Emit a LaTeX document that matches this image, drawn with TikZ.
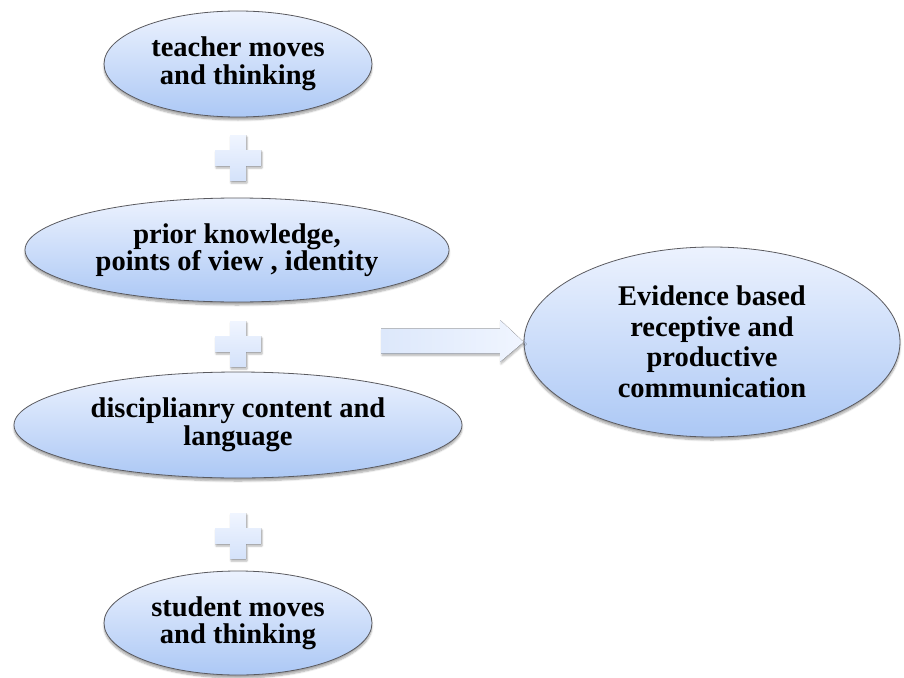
\documentclass[tikz,border=0pt]{standalone}
\usepackage{fontspec}
\setmainfont{Liberation Serif}
\usetikzlibrary{shapes.geometric,shadows.blur}
\definecolor{bubbletop}{RGB}{236,242,254}
\definecolor{bubblebot}{RGB}{172,200,245}
\definecolor{signtop}{RGB}{240,245,255}
\definecolor{signbot}{RGB}{212,226,250}
\definecolor{rimgray}{RGB}{90,90,95}
\tikzset{
  bubble/.style={ellipse, draw=rimgray, line width=0.8pt,
    top color=bubbletop, bottom color=bubblebot,
    inner sep=0pt, align=center,
    font=\fontsize{28.5}{27.5}\selectfont\bfseries,
    blur shadow={shadow xshift=0pt, shadow yshift=-3pt, shadow blur steps=6, shadow opacity=35}},
  sign/.style={top color=signtop, bottom color=signbot, draw=none,
    blur shadow={shadow xshift=1pt, shadow yshift=-2pt, shadow blur steps=5, shadow opacity=30}}
}
\begin{document}
\begin{tikzpicture}[x=1pt,y=-1pt]
\useasboundingbox (0,0) rectangle (904,677);

% four input bubbles
\node[bubble, minimum width=268pt, minimum height=106pt] (teacher) at (238,64)
  {teacher moves\\and thinking};
\node[bubble, minimum width=424pt, minimum height=104pt] (prior) at (237,250)
  {prior knowledge,\\points of view , identity};
\node[bubble, minimum width=448pt, minimum height=106pt] (discip) at (238,425)
  {disciplianry content and\\language};
\node[bubble, minimum width=268pt, minimum height=104pt] (student) at (238,623)
  {student moves\\and thinking};

% outcome bubble
\node[bubble, minimum width=376pt, minimum height=190pt,
  font=\fontsize{28.5}{30.5}\selectfont\bfseries] (evidence) at (712,342)
  {Evidence based\\receptive and\\productive\\communication};

% plus signs between the bubbles
\foreach \n/\cy in {plusA/158, plusB/344, plusC/536}{
  \coordinate (\n) at (238,\cy);
  \begin{scope}[shift={(\n)}]
    \fill[sign] (-8,-23) -- (8,-23) -- (8,-8) -- (23,-8) -- (23,8) -- (8,8)
      -- (8,23) -- (-8,23) -- (-8,8) -- (-23,8) -- (-23,-8) -- (-8,-8) -- cycle;
  \end{scope}
}

% block arrow towards the outcome
\coordinate (arrowtail) at (381,341);
\begin{scope}[shift={(arrowtail)}]
  \fill[sign, left color=signbot!80!white, right color=signtop]
    (0,-12.5) -- (119,-12.5) -- (119,-21) -- (evidence.west) -- (119,21)
    -- (119,12.5) -- (0,12.5) -- cycle;
\end{scope}
\end{tikzpicture}
\end{document}
